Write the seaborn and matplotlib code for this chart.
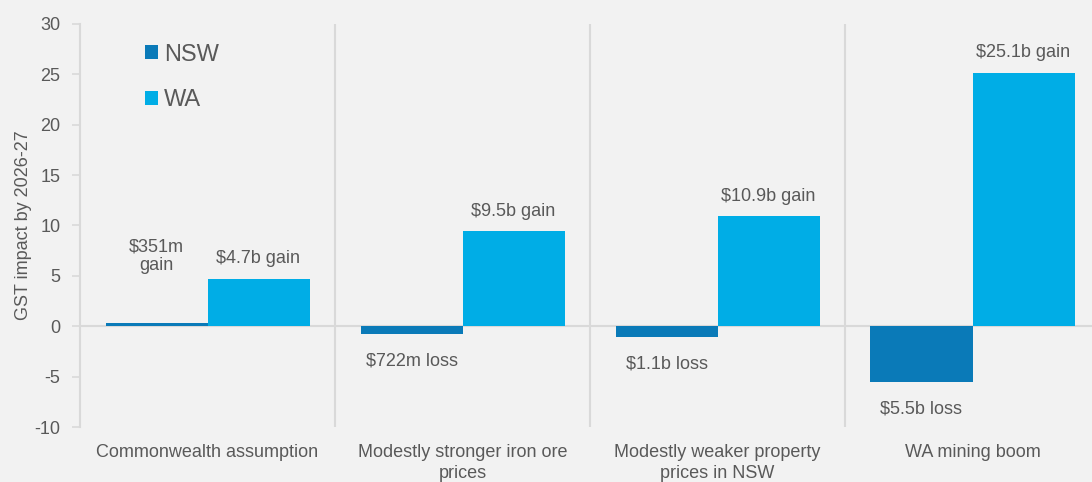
import matplotlib
matplotlib.use("Agg")
import matplotlib.pyplot as plt
import seaborn as sns
import pandas as pd

categories = ["Commonwealth assumption", "Modestly stronger iron ore\nprices",
              "Modestly weaker property\nprices in NSW", "WA mining boom"]
states = ["NSW", "WA"]
nsw_values = [0.351, -0.722, -1.1, -5.5]
wa_values = [4.7, 9.5, 10.9, 25.1]
nsw_labels = ["$351m\ngain", "$722m loss", "$1.1b loss", "$5.5b loss"]
wa_labels = ["$4.7b gain", "$9.5b gain", "$10.9b gain", "$25.1b gain"]
y_ticks = [-10, -5, 0, 5, 10, 15, 20, 25, 30]

df = pd.DataFrame({
    "Scenario": categories * 2,
    "State": ["NSW"] * 4 + ["WA"] * 4,
    "Value": nsw_values + wa_values,
})

BG = "#F2F2F2"
TXT = "#595959"
GRID = "#D9D9D9"

sns.set_theme(style="white")
plt.rcParams["font.family"] = ["Liberation Sans", "DejaVu Sans"]

fig = plt.figure(figsize=(10.92, 4.82), dpi=100, facecolor=BG)
ax = fig.add_axes([80 / 1092, 55 / 482, 1 - 80 / 1092, 403 / 482])
ax.set_facecolor(BG)

sns.barplot(data=df, x="Scenario", y="Value", hue="State", order=categories,
            hue_order=states, palette=["#0A7AB8", "#00ADE6"], width=0.8,
            saturation=1, ax=ax, errorbar=None, linewidth=0)

ax.set_ylim(-10, 30)
ax.set_xlim(-0.5, 3.5 - 8 / 255)
ax.set_yticks(y_ticks)
ax.set_yticklabels([str(v) for v in y_ticks])
ax.set_xlabel("")
ax.set_ylabel("GST impact by 2026-27", color=TXT, fontsize=13, labelpad=2)

for s in ["top", "right", "bottom"]:
    ax.spines[s].set_visible(False)
ax.spines["left"].set_color(GRID)
ax.spines["left"].set_linewidth(1.5)
ax.tick_params(axis="y", colors=GRID, labelcolor=TXT, labelsize=13,
               length=6, width=1.2, direction="out", left=True, pad=8)
ax.tick_params(axis="x", length=0, labelcolor=TXT, labelsize=13, pad=12)
for t in ax.get_xticklabels():
    t.set_linespacing(1.3)

# zero line and category separators
ax.axhline(0, color=GRID, lw=1.5, zorder=0)
for b in [0.5, 1.5, 2.5]:
    ax.axvline(b, color=GRID, lw=1.5, zorder=0)

# data labels
offsets = {"NSW": [48, -19.5, -19, -19.5], "WA": [15, 13.5, 14, 15]}
labels = {"NSW": nsw_labels, "WA": wa_labels}
for cont, st in zip(ax.containers, states):
    for i, patch in enumerate(cont):
        xc = patch.get_x() + patch.get_width() / 2
        yv = patch.get_y() + patch.get_height()
        ax.annotate(labels[st][i], (xc, yv), xytext=(0, offsets[st][i]),
                    textcoords="offset points", ha="center", va="center",
                    color=TXT, fontsize=13, linespacing=1.1)

leg = ax.legend(loc="upper left", bbox_to_anchor=(0.055, 0.975), frameon=False,
                fontsize=17, handlelength=0.55, handleheight=0.55,
                handletextpad=0.25, labelspacing=1.0, borderaxespad=0)
for t in leg.get_texts():
    t.set_color(TXT)

fig.savefig("out.png", dpi=100, facecolor=BG)
